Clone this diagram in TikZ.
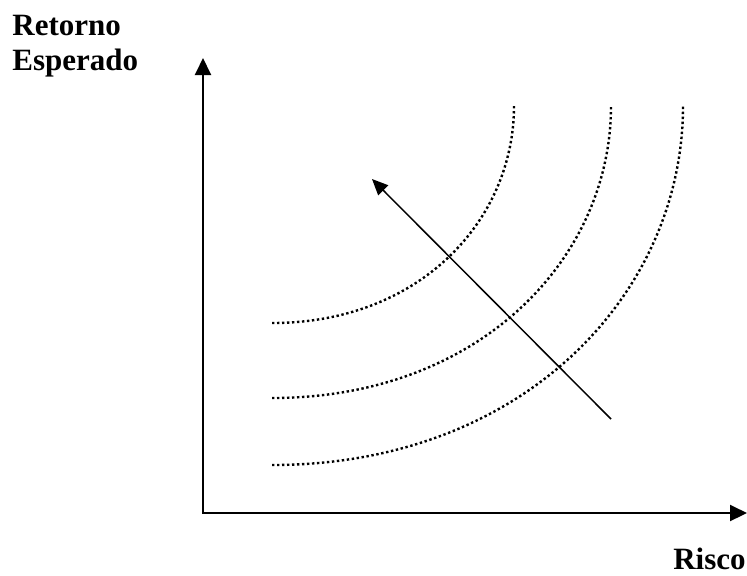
\documentclass[tikz,border=0pt]{standalone}
\usepackage{fontspec}
\setmainfont{Liberation Serif}
\usetikzlibrary{arrows.meta}

\begin{document}
\begin{tikzpicture}[x=0.5pt, y=-0.5pt,
  axis/.style={line width=1pt, {Triangle[length=8.5pt, width=8pt]}-{Triangle[length=8.5pt, width=8pt]}},
  seta/.style={line width=0.75pt, -{Triangle[length=8pt, width=7pt]}},
  curva/.style={line width=1.2pt, dash pattern=on 1.2pt off 1.3pt},
  rotulo/.style={font=\fontsize{15.5}{18}\selectfont\bfseries, inner sep=0pt, anchor=base west}
]
  \useasboundingbox (0,0) rectangle (747,575);

  % Axes
  \coordinate (origin) at (203,513);
  \coordinate (ytop) at (203,58);
  \coordinate (xend) at (747,513);
  \draw[axis] (ytop) -- (origin) -- (xend);

  % Indifference curves
  \coordinate (c1a) at (272,323);
  \coordinate (c1b) at (514,106);
  \coordinate (c2a) at (272,398);
  \coordinate (c2b) at (611,106);
  \coordinate (c3a) at (272,465);
  \coordinate (c3b) at (683,106);
  \draw[curva] (c1a) .. controls +(148,0) and +(0,114) .. (c1b);
  \draw[curva] (c2a) .. controls +(207,0) and +(0,153) .. (c2b);
  \draw[curva] (c3a) .. controls +(251,0) and +(0,188) .. (c3b);

  % Direction of preference
  \coordinate (setaA) at (611,419);
  \coordinate (setaB) at (372,179);
  \draw[seta] (setaA) -- (setaB);

  % Labels
  \node[rotulo] (retorno) at (12,35) {Retorno};
  \node[rotulo] (esperado) at (12,70) {Esperado};
  \node[rotulo, anchor=base east] (risco) at (746,569) {Risco};
\end{tikzpicture}
\end{document}
